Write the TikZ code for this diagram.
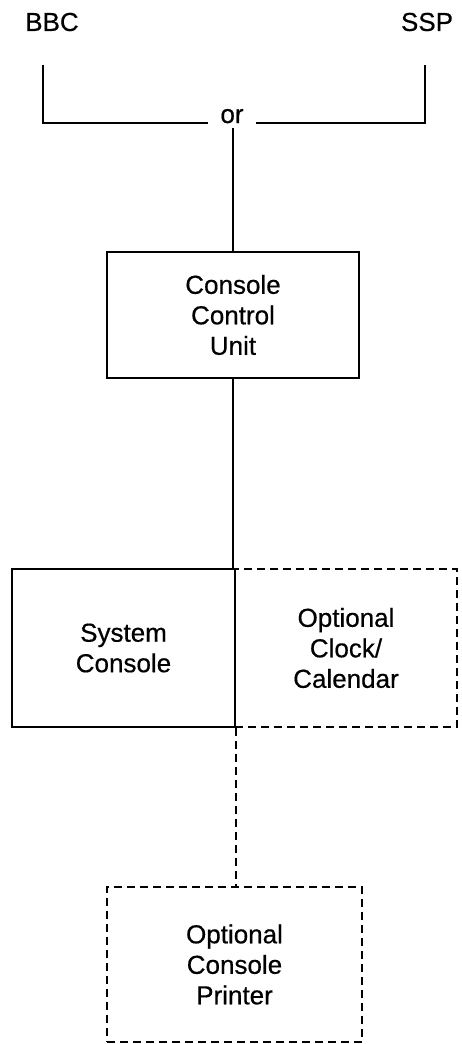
\documentclass[tikz,border=0pt]{standalone}
\usepackage{fontspec}
\setmainfont{Liberation Sans}
\newfontfamily\lblfont[FakeBold=0.5]{Liberation Sans}
\begin{document}
\begin{tikzpicture}[x=1pt,y=-1pt,
  line width=1.7pt,
  lbl/.style={font=\lblfont\fontsize{26}{30.5}\selectfont, inner sep=0pt, align=center},
  unit/.style={draw, lbl, minimum width=#1, anchor=center},
  opt/.style={dash pattern=on 8pt off 5pt},
]
\useasboundingbox (0,0) rectangle (462,1044);

% source labels
\node[lbl] (bbc) at (52,22) {BBC};
\node[lbl] (ssp) at (427,22) {SSP};
\node[lbl, anchor=base, inner xsep=12pt, inner ysep=4pt] (orn) at (232,123) {or};

% selector bracket
\coordinate (bl) at (43,65);
\coordinate (br) at (425,65);
\draw (bl) |- (orn.base west);
\draw (br) |- (orn.base east);

% units
\node[unit=252pt, minimum height=126pt] (ccu) at (233,315) {Console\\Control\\Unit};
\node[unit=222pt, minimum height=158pt, opt] (clk) at (346,648) {Optional\\Clock/\\Calendar};
\node[unit=223pt, minimum height=158pt] (sys) at (123.5,648) {System\\Console};
\node[unit=255pt, minimum height=155pt, opt] (prn) at (234.5,964.5) {Optional\\Console\\Printer};

% connections
\draw (ccu.north |- orn.south) -- (ccu.north);
\draw (ccu.south) -- (ccu.south |- sys.north);
\draw[opt] (sys.south east) -- (sys.south east |- prn.north);
\end{tikzpicture}
\end{document}
